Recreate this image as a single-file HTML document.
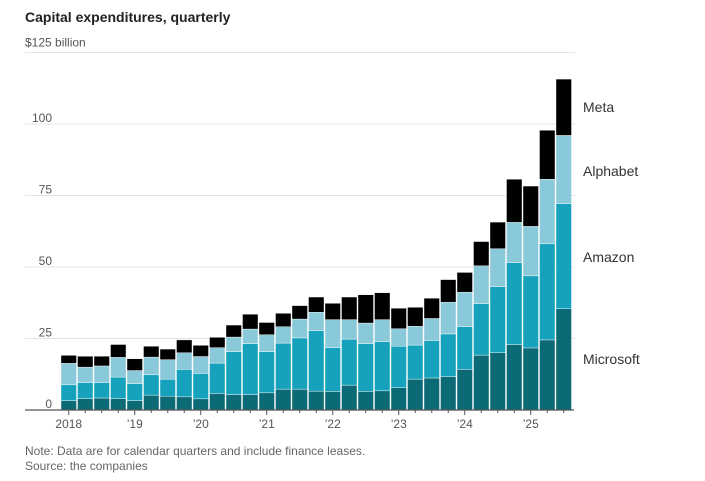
<!DOCTYPE html>
<html><head><meta charset="utf-8"><style>
body{margin:0;background:#fff;font-family:"Liberation Sans",sans-serif;}
svg{display:block}
</style></head><body>
<svg id="chart" width="705" height="481" xmlns="http://www.w3.org/2000/svg">
<text x="25" y="22" font-size="14" font-weight="bold" fill="#222">Capital expenditures, quarterly</text>
<g id="grid"></g><g id="bars"></g><g id="axis"></g>
<text x="583" y="112" font-size="14" fill="#333">Meta</text>
<text x="583" y="176" font-size="14" fill="#333">Alphabet</text>
<text x="583" y="262" font-size="14" fill="#333">Amazon</text>
<text x="583" y="364" font-size="14" fill="#333">Microsoft</text>
<text x="25" y="455" font-size="12" fill="#666">Note: Data are for calendar quarters and include finance leases.</text>
<text x="25" y="470" font-size="12" fill="#666">Source: the companies</text>
</svg>
<script>
const quarters = ["2018Q1","2018Q2","2018Q3","2018Q4","2019Q1","2019Q2","2019Q3","2019Q4","2020Q1","2020Q2","2020Q3","2020Q4","2021Q1","2021Q2","2021Q3","2021Q4","2022Q1","2022Q2","2022Q3","2022Q4","2023Q1","2023Q2","2023Q3","2023Q4","2024Q1","2024Q2","2024Q3","2024Q4","2025Q1","2025Q2","2025Q3"];
const microsoft = [3.3,4.0,4.2,4.0,3.3,5.2,4.8,4.6,3.9,5.8,5.4,5.4,6.0,7.3,7.3,6.6,6.5,8.7,6.5,6.7,7.8,10.8,11.2,11.7,14.2,19.2,20.0,22.9,21.7,24.5,35.4];
const amazon = [5.5,5.6,5.4,7.5,5.9,7.1,6.0,9.6,8.9,10.6,15.0,17.8,14.4,16.1,17.9,21.1,15.3,16.1,16.7,17.2,14.5,11.9,13.1,14.9,14.9,18.0,23.1,28.6,25.2,33.6,36.7];
const alphabet = [7.5,5.4,5.8,6.9,4.6,6.2,6.8,5.8,5.9,5.4,5.1,5.1,5.9,5.7,6.6,6.5,9.8,6.8,7.2,7.7,6.1,6.6,7.7,11.1,12.1,13.2,13.3,14.1,17.3,22.6,23.9];
const meta = [2.8,3.8,3.4,4.5,4.1,3.8,3.7,4.5,3.9,3.6,4.2,5.2,4.3,4.7,4.7,5.3,5.7,7.9,9.9,9.4,7.2,6.6,7.1,7.9,6.9,8.5,9.3,15.1,14.1,17.1,19.7];
const yTicks = [0,25,50,75,100,125];
const yTickLabels = ["0","25","50","75","100","$125 billion"];
const yearLabels = ["2018","’19","’20","’21","’22","’23","’24","’25"];

const NS="http://www.w3.org/2000/svg";
const baseY=410, pxPer=2.86, x0=61, pitch=16.5, bw=15.5;
function y(v){return baseY - v*pxPer;}
function x(i){return x0 + i*pitch;}
function mk(tag,attrs,parent){const e=document.createElementNS(NS,tag);for(const k in attrs)e.setAttribute(k,attrs[k]);parent.appendChild(e);return e;}
const grid=document.getElementById('grid'), bars=document.getElementById('bars'), axis=document.getElementById('axis');
yTicks.forEach((t,i)=>{
  if(t>0){const l=mk('line',{x1:25,x2:575,y1:y(t),y2:y(t),stroke:'#e4e4e4','stroke-width':1},grid);
  
  }
  const lab=mk('text',{x:i==5?25:52,y:i==5?y(t)-6:y(t)-2,'font-size':12,fill:'#555','text-anchor':i==5?'start':'end'},grid);
  lab.textContent=yTickLabels[i];
  
  
});
const series=[[microsoft,'#0c6a76','microsoft'],[amazon,'#16a2bd','amazon'],[alphabet,'#8ac9d9','alphabet'],[meta,'#000','meta']];
quarters.forEach((q,i)=>{
  let cum=0;
  series.forEach(([arr,col,nm])=>{
    const v=arr[i];
    const r=mk('rect',{x:x(i),y:y(cum+v),width:bw,height:v*pxPer,fill:col,stroke:'#fff','stroke-width':0.4},bars);
    
    
    cum+=v;
  });
  const tk=mk('line',{x1:x(i)+bw/2,x2:x(i)+bw/2,y1:baseY,y2:baseY+(i%4==0?5:3),stroke:'#555','stroke-width':1},axis);
  
  
  if(i%4==0){
    const t=mk('text',{x:x(i)+bw/2,y:baseY+18,'font-size':12,fill:'#555','text-anchor':'middle'},axis);
    t.textContent=yearLabels[i/4];
    
    
  }
});
const bl=mk('line',{x1:25,x2:574,y1:baseY,y2:baseY,stroke:'#555','stroke-width':1.2},axis);


</script>
</body></html>
